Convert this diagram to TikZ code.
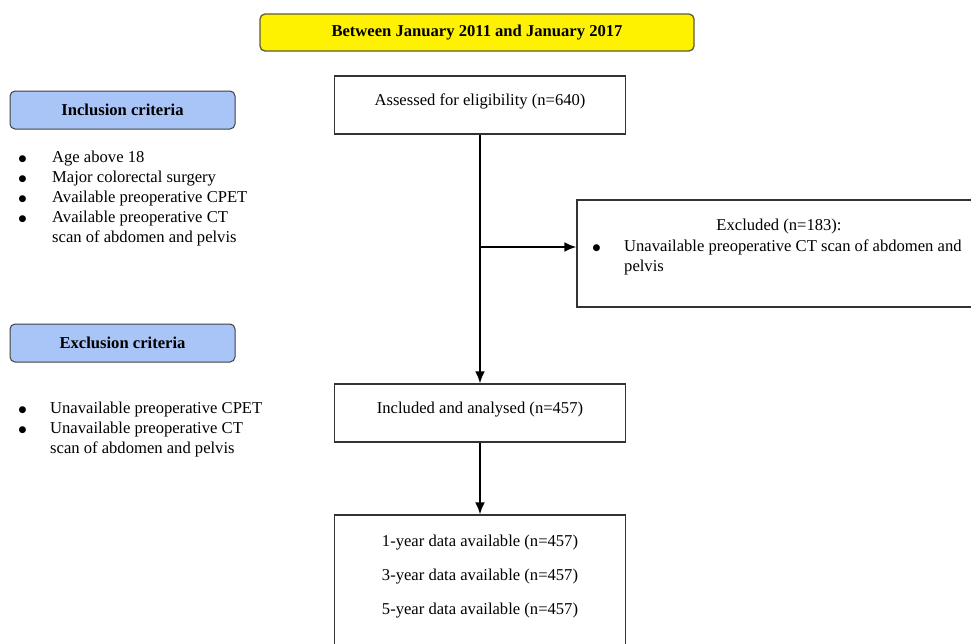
\documentclass[tikz,border=0pt]{standalone}
\usepackage{fontspec}
\setmainfont{Liberation Serif}
\newfontfamily\dotfont{DejaVu Sans}
\usetikzlibrary{arrows.meta}
\definecolor{critblue}{HTML}{A9C4F7}
\definecolor{periodedge}{HTML}{5E5A3C}
\newcommand{\bigbul}{\raisebox{1.2pt}{\dotfont\fontsize{9}{10}\selectfont ●}}
\begin{document}
\begin{tikzpicture}[x=1pt,y=-1pt,
  every node/.style={font=\fontsize{16.6}{20}\selectfont},
  periodbox/.style={draw=periodedge, line width=1.3pt, fill=yellow, rounded corners=5pt, inner sep=0pt},
  critbox/.style={draw=black!75, line width=1pt, fill=critblue, rounded corners=5pt, inner sep=0pt},
  flowbox/.style={draw=black!80, line width=1.2pt, fill=white, inner sep=0pt},
  txt/.style={inner sep=0pt},
  arr/.style={line width=2.2pt, -{Latex[length=12pt,width=10pt]}}
]
\useasboundingbox (0,0) rectangle (971,643);
\clip (0,0) rectangle (971,643);
\fill[white] (0,0) rectangle (971,643);

% period banner
\node[periodbox, minimum width=434pt, minimum height=37pt] (period) at (477,32.5)
  {\bfseries Between January 2011 and January 2017};

% criteria headers
\node[critbox, minimum width=225pt, minimum height=38pt] (inchead) at (122.5,110)
  {\bfseries Inclusion criteria};
\node[critbox, minimum width=225pt, minimum height=38pt] (exchead) at (122.5,343)
  {\bfseries Exclusion criteria};

% inclusion list
\node[txt, anchor=north west] (inclist) at (18.5,148)
  {\begin{tabular}{@{}p{33.5pt}@{}l@{}}
   \bigbul & Age above 18\\
   \bigbul & Major colorectal surgery\\
   \bigbul & Available preoperative CPET\\
   \bigbul & Available preoperative CT\\
               & scan of abdomen and pelvis
   \end{tabular}};

% exclusion list
\node[txt, anchor=north west] (exclist) at (18.5,399)
  {\begin{tabular}{@{}p{31.5pt}@{}l@{}}
   \bigbul & Unavailable preoperative CPET\\
   \bigbul & Unavailable preoperative CT\\
               & scan of abdomen and pelvis
   \end{tabular}};

% flow boxes
\node[flowbox, minimum width=291pt, minimum height=58pt] (assess) at (480,105) {};
\node[txt] (assesstxt) at (480,101.5) {Assessed for eligibility (n=640)};

\node[flowbox, minimum width=398pt, minimum height=107pt] (excl) at (776,253.5) {};
\node[txt] (excltitle) at (779,226.5) {Excluded (n=183):};
\node[txt, anchor=north west] (excllist) at (592.5,237)
  {\begin{tabular}{@{}p{31.5pt}@{}l@{}}
   \bigbul & Unavailable preoperative CT scan of abdomen and\\
               & pelvis
   \end{tabular}};

\node[flowbox, minimum width=291pt, minimum height=58pt] (incl) at (480,413) {};
\node[txt] (incltxt) at (480,409.5) {Included and analysed (n=457)};

\node[flowbox, minimum width=291pt, minimum height=140pt] (follow) at (480,585) {};
\node[txt] (y1) at (480,542.5) {1-year data available (n=457)};
\node[txt] (y3) at (480,576.5) {3-year data available (n=457)};
\node[txt] (y5) at (480,610.5) {5-year data available (n=457)};

% connectors
\coordinate (branch) at (480,247);
\draw[arr] (assess.south) -- (incl.north);
\draw[arr] (branch) -- (branch -| excl.west);
\draw[arr] (incl.south) -- (follow.north);
\end{tikzpicture}
\end{document}
